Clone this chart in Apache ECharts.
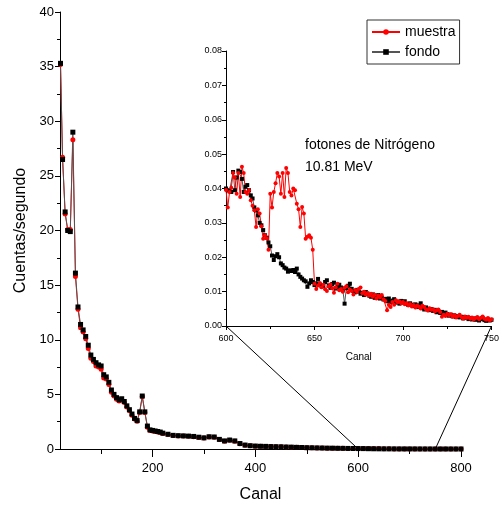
<!DOCTYPE html>
<html>
<head>
<meta charset="utf-8">
<script src="https://cdn.jsdelivr.net/npm/echarts@6/dist/echarts.min.js"></script>
<style>
  html, body { margin: 0; padding: 0; background: #fff; }
  #main { width: 502px; height: 508px; }
</style>
</head>
<body>
<div id="main"></div>
<script>
// canales del espectro completo
var mainCanal = [21, 25, 30, 35, 40, 45, 50, 55, 60, 65, 70, 75, 80, 85, 90, 95, 100, 105, 110, 115, 120,
  125, 130, 135, 140, 145, 150, 155, 160, 165, 170, 175, 180, 185, 190, 195, 200, 205, 210, 215, 220,
  230, 240, 250, 260, 270, 280, 290, 300, 310, 320, 330, 340, 350, 360, 370, 380, 390, 400,
  410, 420, 430, 440, 450, 460, 470, 480, 490, 500, 510, 520, 530, 540, 550, 560, 570, 580, 590, 600,
  610, 620, 630, 640, 650, 660, 670, 680, 690, 700, 710, 720, 730, 740, 750, 760, 770, 780, 790, 800]
var mainFondo = [35.3, 26.5, 21.7, 20.0, 19.9, 29.0, 16.1, 13.0, 11.4, 10.9, 10.3, 9.5, 8.6, 8.2, 7.9, 7.7, 7.6, 6.8, 6.6, 6.1, 5.4,
  5.0, 4.7, 4.5, 4.6, 4.35, 3.95, 3.6, 3.2, 2.8, 2.6, 3.4, 4.85, 3.4, 2.1, 1.75, 1.7, 1.65, 1.6, 1.55, 1.45,
  1.35, 1.25, 1.22, 1.2, 1.18, 1.15, 1.08, 1.02, 1.12, 1.1, 0.88, 0.74, 0.82, 0.74, 0.5, 0.36, 0.3, 0.27,
  0.25, 0.24, 0.22, 0.21, 0.2, 0.18, 0.17, 0.15, 0.14, 0.12, 0.11, 0.1, 0.09, 0.08, 0.075, 0.065, 0.06, 0.052, 0.046, 0.04,
  0.037, 0.028, 0.02, 0.016, 0.012, 0.012, 0.011, 0.009, 0.008, 0.007, 0.006, 0.004, 0.003, 0.002, 0.002, 0.002, 0.002, 0.001, 0.001, 0.001]
var mainMuestra = [35.2, 26.7, 21.5, 20.1, 20.1, 28.3, 15.8, 12.8, 11.1, 10.7, 10.1, 9.2, 8.3, 8.0, 7.6, 7.5, 7.3, 6.5, 6.4, 5.9, 5.2,
  4.85, 4.55, 4.4, 4.5, 4.25, 3.85, 3.5, 3.1, 2.75, 2.55, 3.35, 4.8, 3.35, 2.0, 1.7, 1.65, 1.6, 1.55, 1.5, 1.42,
  1.32, 1.23, 1.2, 1.18, 1.16, 1.13, 1.06, 1.0, 1.1, 1.08, 0.86, 0.72, 0.8, 0.72, 0.48, 0.35, 0.29, 0.26,
  0.25, 0.24, 0.22, 0.21, 0.2, 0.18, 0.17, 0.15, 0.14, 0.12, 0.11, 0.1, 0.09, 0.08, 0.075, 0.065, 0.06, 0.052, 0.046, 0.04,
  0.037, 0.036, 0.04, 0.036, 0.012, 0.012, 0.011, 0.009, 0.008, 0.007, 0.006, 0.004, 0.003, 0.002, 0.002, 0.002, 0.002, 0.001, 0.001, 0.001]

// ampliacion: canales 600..750, uno por canal
var insetInicio = 600
var insetFondo = [
  0.0400, 0.0395, 0.0392, 0.0390, 0.0448, 0.0395, 0.0432, 0.0452, 0.0448, 0.0428,
  0.0390, 0.0405, 0.0410, 0.0395, 0.0380, 0.0371, 0.0345, 0.0336, 0.0322, 0.0300,
  0.0293, 0.0279, 0.0264, 0.0257, 0.0243, 0.0232, 0.0205, 0.0192, 0.0203, 0.0209,
  0.0200, 0.0182, 0.0177, 0.0170, 0.0167, 0.0158, 0.0162, 0.0160, 0.0163, 0.0157,
  0.0167, 0.0150, 0.0143, 0.0138, 0.0133, 0.0130, 0.0114, 0.0124, 0.0133, 0.0128,
  0.0119, 0.0124, 0.0137, 0.0121, 0.0115, 0.0117, 0.0128, 0.0133, 0.0118, 0.0111,
  0.0122, 0.0126, 0.0109, 0.0114, 0.0120, 0.0112, 0.0104, 0.0065, 0.0110, 0.0117,
  0.0123, 0.0108, 0.0102, 0.0098, 0.0105, 0.0100, 0.0094, 0.0097, 0.0090, 0.0099,
  0.0094, 0.0088, 0.0085, 0.0092, 0.0082, 0.0086, 0.0090, 0.0080, 0.0083, 0.0077,
  0.0079, 0.0072, 0.0080, 0.0070, 0.0074, 0.0078, 0.0068, 0.0071, 0.0065, 0.0073,
  0.0068, 0.0072, 0.0064, 0.0061, 0.0066, 0.0062, 0.0058, 0.0063, 0.0055, 0.0060,
  0.0066, 0.0052, 0.0048, 0.0054, 0.0050, 0.0046, 0.0049, 0.0044, 0.0047, 0.0040,
  0.0043, 0.0038, 0.0041, 0.0036, 0.0039, 0.0035, 0.0030, 0.0033, 0.0028, 0.0031,
  0.0026, 0.0029, 0.0025, 0.0027, 0.0022, 0.0026, 0.0024, 0.0020, 0.0023, 0.0019,
  0.0022, 0.0018, 0.0021, 0.0016, 0.0020, 0.0023, 0.0017, 0.0015, 0.0019, 0.0016,
  0.0018]
var insetMuestra = [
  0.0396, 0.0345, 0.0390, 0.0402, 0.0445, 0.0432, 0.0385, 0.0445, 0.0375, 0.0463,
  0.0445, 0.0390, 0.0385, 0.0395, 0.0366, 0.0350, 0.0337, 0.0288, 0.0340, 0.0327,
  0.0290, 0.0254, 0.0264, 0.0255, 0.0222, 0.0385, 0.0345, 0.0390, 0.0415, 0.0445,
  0.0435, 0.0385, 0.0445, 0.0375, 0.0460, 0.0445, 0.0390, 0.0380, 0.0400, 0.0395,
  0.0356, 0.0340, 0.0288, 0.0346, 0.0327, 0.0254, 0.0260, 0.0264, 0.0257, 0.0222,
  0.0123, 0.0108, 0.0118, 0.0125, 0.0113, 0.0120, 0.0107, 0.0102, 0.0115, 0.0121,
  0.0110, 0.0097, 0.0112, 0.0123, 0.0104, 0.0108, 0.0100, 0.0111, 0.0116, 0.0098,
  0.0106, 0.0102, 0.0092, 0.0105, 0.0099, 0.0108, 0.0112, 0.0095, 0.0100, 0.0091,
  0.0096, 0.0089, 0.0094, 0.0085, 0.0091, 0.0080, 0.0089, 0.0083, 0.0090, 0.0078,
  0.0073, 0.0046, 0.0062, 0.0055, 0.0070, 0.0062, 0.0075, 0.0069, 0.0072, 0.0066,
  0.0070, 0.0063, 0.0067, 0.0060, 0.0064, 0.0057, 0.0061, 0.0054, 0.0060, 0.0056,
  0.0051, 0.0059, 0.0055, 0.0049, 0.0045, 0.0052, 0.0047, 0.0049, 0.0042, 0.0046,
  0.0048, 0.0041, 0.0027, 0.0033, 0.0029, 0.0036, 0.0031, 0.0034, 0.0027, 0.0032,
  0.0025, 0.0029, 0.0033, 0.0026, 0.0022, 0.0028, 0.0024, 0.0027, 0.0021, 0.0025,
  0.0019, 0.0023, 0.0026, 0.0020, 0.0024, 0.0028, 0.0021, 0.0018, 0.0023, 0.0017,
  0.0020]

var xLabels = [200, 400, 600, 800]
var xMinor = [100, 300, 500, 700]

var FONT = 'Liberation Sans, Arial, sans-serif'

function pares(xs, ys) { return xs.map((x, i) => [x, ys[i]]) }
function paresInset(ys) { return ys.map((y, i) => [insetInicio + i, y]) }

var chart = echarts.init(document.getElementById('main'))

var option = {
  animation: false,
  textStyle: { fontFamily: FONT },
  legend: {
    orient: 'vertical',
    left: 367, top: 20,
    padding: [5, 4, 5, 4],
    borderColor: '#333', borderWidth: 1,
    itemWidth: 28, itemHeight: 7, itemGap: 6,
    textStyle: { fontSize: 14, color: '#000', fontFamily: FONT },
    data: ['muestra', 'fondo']
  },
  grid: [
    { left: 60, right: 41, top: 12, bottom: 56 },
    { left: 226, right: 4, top: 51, bottom: 182 }
  ],
  xAxis: [
    {
      type: 'value', gridIndex: 0, min: 20, max: 800,
      name: 'Canal', nameLocation: 'middle', nameGap: 38,
      nameTextStyle: { fontSize: 16, color: '#000' },
      splitLine: { show: false },
      axisLine: { lineStyle: { color: '#000', width: 1 } },
      axisTick: { customValues: xLabels, length: 8, lineStyle: { color: '#000' } },
      axisLabel: { customValues: xLabels, fontSize: 13, color: '#000', margin: 13 }
    },
    {
      type: 'value', gridIndex: 0, min: 20, max: 800, position: 'bottom',
      splitLine: { show: false },
      axisLine: { show: false },
      axisTick: { customValues: xMinor, length: 5, lineStyle: { color: '#000' } },
      axisLabel: { show: false }
    },
    {
      type: 'value', gridIndex: 1, min: 600, max: 750, interval: 50,
      name: 'Canal', nameLocation: 'middle', nameGap: 26,
      nameTextStyle: { fontSize: 10, color: '#000' },
      splitLine: { show: false },
      axisLine: { lineStyle: { color: '#000', width: 1 } },
      axisTick: { length: 4, lineStyle: { color: '#000' } },
      minorTick: { show: true, splitNumber: 2, length: 3, lineStyle: { color: '#000' } },
      axisLabel: { fontSize: 9, color: '#000', margin: 8 }
    }
  ],
  yAxis: [
    {
      type: 'value', gridIndex: 0, min: 0, max: 40, interval: 5,
      name: 'Cuentas/segundo', nameLocation: 'middle', nameGap: 28,
      nameTextStyle: { fontSize: 16, color: '#000' },
      splitLine: { show: false },
      axisLine: { show: true, lineStyle: { color: '#000', width: 1 } },
      axisTick: { show: true, length: 5, lineStyle: { color: '#000' } },
      minorTick: { show: true, splitNumber: 2, length: 3, lineStyle: { color: '#000' } },
      axisLabel: { fontSize: 13, color: '#000', margin: 6 }
    },
    {
      type: 'value', gridIndex: 1, min: 0, max: 0.08, interval: 0.01,
      splitLine: { show: false },
      axisLine: { show: true, lineStyle: { color: '#000', width: 1 } },
      axisTick: { show: true, length: 4, lineStyle: { color: '#000' } },
      minorTick: { show: true, splitNumber: 2, length: 2, lineStyle: { color: '#000' } },
      axisLabel: { fontSize: 9, color: '#000', margin: 4, formatter: v => v.toFixed(2) }
    }
  ],
  series: [
    {
      name: 'muestra', type: 'line', xAxisIndex: 0, yAxisIndex: 0,
      data: pares(mainCanal, mainMuestra),
      symbol: 'circle', symbolSize: 5,
      itemStyle: { color: '#ff0000' },
      lineStyle: { color: '#ff0000', width: 1 }
    },
    {
      name: 'fondo', type: 'line', xAxisIndex: 0, yAxisIndex: 0,
      data: pares(mainCanal, mainFondo),
      symbol: 'rect', symbolSize: 5,
      itemStyle: { color: '#000' },
      lineStyle: { color: '#555', width: 1 }
    },
    {
      name: 'fondo', type: 'line', xAxisIndex: 2, yAxisIndex: 1,
      data: paresInset(insetFondo),
      symbol: 'rect', symbolSize: 4,
      itemStyle: { color: '#000' },
      lineStyle: { color: '#555', width: 1 }
    },
    {
      name: 'muestra', type: 'line', xAxisIndex: 2, yAxisIndex: 1,
      data: paresInset(insetMuestra),
      symbol: 'circle', symbolSize: 4,
      itemStyle: { color: '#ff0000' },
      lineStyle: { color: '#ff0000', width: 1 }
    }
  ]
}

chart.setOption(option)

// lineas que unen la ampliacion con el eje principal
var a1 = chart.convertToPixel({ xAxisIndex: 0, yAxisIndex: 0 }, [600, 0])
var b1 = chart.convertToPixel({ xAxisIndex: 2, yAxisIndex: 1 }, [600, 0])
var a2 = chart.convertToPixel({ xAxisIndex: 0, yAxisIndex: 0 }, [750, 0])
var b2 = chart.convertToPixel({ xAxisIndex: 2, yAxisIndex: 1 }, [750, 0])

chart.setOption({
  graphic: [
    { type: 'line', shape: { x1: a1[0], y1: a1[1], x2: b1[0], y2: b1[1] }, style: { stroke: '#000', lineWidth: 1 } },
    { type: 'line', shape: { x1: a2[0], y1: a2[1], x2: b2[0], y2: b2[1] }, style: { stroke: '#000', lineWidth: 1 } },
    {
      type: 'text', left: 305, top: 134,
      style: { text: 'fotones de Nitrógeno\n10.81 MeV', font: '14px ' + FONT, fill: '#000', lineHeight: 22 }
    }
  ]
})
</script>
</body>
</html>
